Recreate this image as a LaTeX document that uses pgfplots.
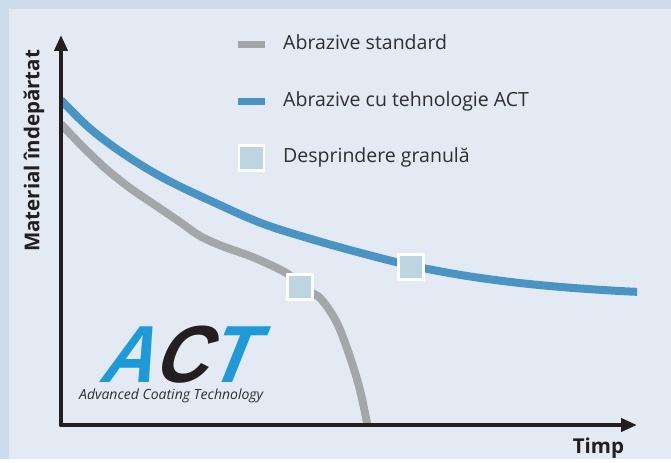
\documentclass[border=0pt]{standalone}
\usepackage{fontspec}
\setmainfont{Open Sans}
\newfontfamily\logofont{Liberation Sans}
\usepackage{pgfplots}
\pgfplotsset{compat=1.18}
\usetikzlibrary{arrows.meta}

\definecolor{outerbg}{HTML}{CDDCEA}
\definecolor{panelbg}{HTML}{E4EAF3}
\definecolor{stdgrey}{HTML}{A4A7A9}
\definecolor{actline}{HTML}{4A94C4}
\definecolor{grainfill}{HTML}{BDD5E1}
\definecolor{axisdark}{HTML}{231F20}
\definecolor{logoblue}{HTML}{1E9AD8}
\definecolor{textgrey}{HTML}{2E2E2E}

% curves in pixel units measured from the axis corner
\pgfplotstableread{
x y
0 301
19 281
44 257
69 237
94 220
119 203
139 189
161 179
194 167
227 151
239 138
259 127
276 102
289 68
299 35
307 -3
}\standard
\pgfplotstableread{
x y
0 325
25 300
50 280
80 260
110 243
150 224
200 202
250 186
300 172
350 159.5
400 150
450 143
500 138
550 134.5
580 133
}\actcurve
\pgfplotstableread{
x y
239 138
350 158
}\grains

\newcommand{\legendbox}{%
  \pgfpathrectangle{\pgfpoint{0pt}{-13.75pt}}{\pgfpoint{27pt}{27.5pt}}%
  \pgfusepath{use as bounding box}}

\begin{document}
\begin{tikzpicture}[x=1pt,y=1pt]
\fill[outerbg] (0,0) rectangle (671,459);
\fill[panelbg] (8.5,0) rectangle (671,449.5);
\begin{axis}[
    at={(61pt,34pt)}, anchor=south west,
    scale only axis, width=576pt, height=390pt,
    xmin=0, xmax=576, ymin=0, ymax=390,
    axis lines=left, axis on top,
    axis line style={line width=4pt, axisdark, line cap=round,
        -{Triangle[length=16pt,width=13pt]}},
    xtick=\empty, ytick=\empty,
    xlabel={Timp}, ylabel={Material îndepărtat},
    label style={font=\bfseries\fontsize{20.5}{24}\selectfont, text=axisdark},
    xlabel style={at={(axis description cs:0.933,-0.074)}, anchor=base},
    ylabel style={at={(axis description cs:-0.047,0.703)}, anchor=center},
    legend style={at={(axis cs:177,394)}, anchor=north west,
        draw=none, fill=none, inner sep=0pt,
        row sep=29pt, column sep=18pt,
        font=\fontsize{19.5}{23}\selectfont, text=textgrey,
        nodes={inner sep=0pt, text height=14pt, text depth=4pt}},
    legend cell align=left,
]
\addplot[stdgrey, line width=8pt, smooth, tension=0.5,
    legend image code/.code={\legendbox
        \draw[line width=7pt] (0pt,0pt) -- (27pt,0pt);}]
    table {\standard};
\addlegendentry{Abrazive standard}
\addplot[actline, line width=8pt, smooth, tension=0.6,
    legend image code/.code={\legendbox
        \draw[line width=7pt] (0pt,0pt) -- (27pt,0pt);}]
    table {\actcurve};
\addlegendentry{Abrazive cu tehnologie ACT}
\addplot[only marks, mark=square*, mark size=12.5pt,
    mark options={draw=white, fill=grainfill, line width=2.5pt},
    legend image code/.code={\legendbox
        \draw[only marks] plot coordinates {(13.5pt,0pt)};}]
    table {\grains};
\addlegendentry{Desprindere granulă}

\node[anchor=base west, inner sep=0pt, xslant=0.4]
    at (axis cs:36,42) {\scalebox{0.92}[1]{\logofont\bfseries\fontsize{81}{81}\selectfont
    \textcolor{logoblue}{A}\textcolor{axisdark}{C}\textcolor{logoblue}{T}}};
\node[anchor=base west, inner sep=0pt, text=textgrey,
    font=\itshape\fontsize{14}{16}\selectfont]
    at (axis cs:18,25) {Advanced Coating Technology};
\end{axis}
\end{tikzpicture}
\end{document}
